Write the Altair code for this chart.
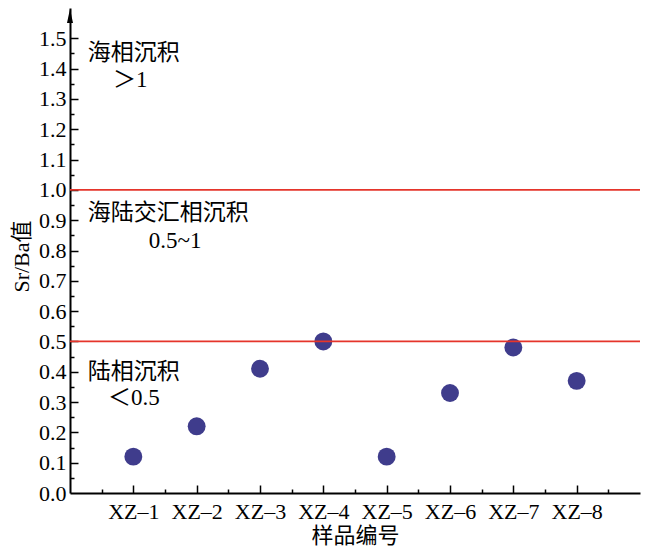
import altair as alt
import pandas as pd

samples = ["XZ–1", "XZ–2", "XZ–3", "XZ–4", "XZ–5", "XZ–6", "XZ–7", "XZ–8"]
sr_ba = [0.12, 0.22, 0.41, 0.50, 0.12, 0.33, 0.48, 0.37]
thresholds = [0.5, 1.0]
y_labels = [0.0, 0.1, 0.2, 0.3, 0.4, 0.5, 0.6, 0.7, 0.8, 0.9, 1.0, 1.1, 1.2, 1.3, 1.4, 1.5]
y_ticks = [0.05, 0.1, 0.15, 0.2, 0.25, 0.3, 0.35, 0.4, 0.45, 0.5, 0.55, 0.6, 0.65, 0.7,
           0.75, 0.8, 0.85, 0.9, 0.95, 1.0, 1.05, 1.1, 1.15, 1.2, 1.25, 1.3, 1.35, 1.4, 1.45, 1.5]
x_ticks = [0.5, 1, 1.5, 2, 2.5, 3, 3.5, 4, 4.5, 5, 5.5, 6, 6.5, 7, 7.5, 8, 8.5]

df = pd.DataFrame({"sample": samples, "pos": list(range(1, len(samples) + 1)), "value": sr_ba})

FONT = "Liberation Serif, Noto Sans CJK SC"
W, H = 570, 485
xscale = alt.Scale(domain=[0, len(samples) + 1], nice=False, zero=False)
yscale = alt.Scale(domain=[0, 1.6], nice=False)

label_expr = "[" + ",".join(f"'{s}'" for s in samples) + "][datum.value - 1]"

points = alt.Chart(df).mark_circle(size=320, color="#3f3c8c", opacity=1).encode(
    x=alt.X("pos:Q", scale=xscale,
            axis=alt.Axis(values=list(range(1, len(samples) + 1)), labelExpr=label_expr,
                          ticks=False, domain=True, domainColor="black", domainWidth=2,
                          grid=False, title="样品编号", labelFontSize=22, titleFontSize=22,
                          labelPadding=8, titlePadding=3, labelFont=FONT, titleFont=FONT,
                          titleFontWeight="normal", labelColor="black", titleColor="black")),
    y=alt.Y("value:Q", scale=yscale,
            axis=alt.Axis(values=y_labels, format=".1f", ticks=False, domain=True,
                          domainColor="black", domainWidth=2, grid=False, title="Sr/Ba值",
                          labelFontSize=22, titleFontSize=22, labelPadding=4,
                          labelFont=FONT, titleFont=FONT, titleFontWeight="normal",
                          labelColor="black", titleColor="black",
                          titleX=-49, titleY=248, titleBaseline="middle", titleAlign="center")),
)

ticks = alt.Chart(df).mark_point(opacity=0).encode(
    x=alt.X("pos:Q", scale=xscale,
            axis=alt.Axis(orient="top", offset=-H, values=x_ticks, labels=False, domain=False,
                          grid=False, title="", tickColor="black", tickWidth=1.5,
                          tickSize={"condition": {"test": "datum.value % 1 === 0", "value": 8}, "value": 4})),
    y=alt.Y("value:Q", scale=yscale,
            axis=alt.Axis(orient="right", offset=-W, values=y_ticks, labels=False, domain=False,
                          grid=False, title="", tickColor="black", tickWidth=1.5,
                          tickSize={"condition": {"test": "abs(datum.value*10 - round(datum.value*10)) < 0.001", "value": 8}, "value": 4})),
)

rules = alt.Chart(pd.DataFrame({"t": thresholds})).mark_rule(color="#e5352b", strokeWidth=1.8).encode(
    y=alt.Y("t:Q", scale=yscale, axis=None)
)

arrow = alt.Chart(pd.DataFrame({"a": [0]})).mark_point(
    shape="M0,-1L0.43,1L-0.43,1Z", filled=True, color="black", opacity=1, size=196, yOffset=8
).encode(x=alt.value(0), y=alt.value(0))

def note(text, x, y, align="left"):
    return alt.Chart(pd.DataFrame({"a": [0]})).mark_text(
        text=text, font=FONT, fontSize=23, color="black", align=align, baseline="middle"
    ).encode(x=alt.XDatum(x, axis=None), y=alt.YDatum(y, axis=None))

notes = [
    note("海相沉积", 0.28, 1.452),
    note("＞1", 0.95, 1.363, "center"),
    note("海陆交汇相沉积", 0.28, 0.924),
    note("0.5~1", 1.66, 0.832, "center"),
    note("陆相沉积", 0.28, 0.40),
    note("＜0.5", 1.01, 0.314, "center"),
]

chart = alt.layer(points, ticks, rules, arrow, *notes).resolve_axis(
    x="independent", y="independent"
).properties(
    width=W, height=H,
    autosize=alt.AutoSizeParams(type="none"),
    padding={"left": 62, "top": 0, "right": 2, "bottom": 60},
).configure_view(stroke=None)

chart.save("out.html", embed_options={"renderer": "svg", "actions": False})
